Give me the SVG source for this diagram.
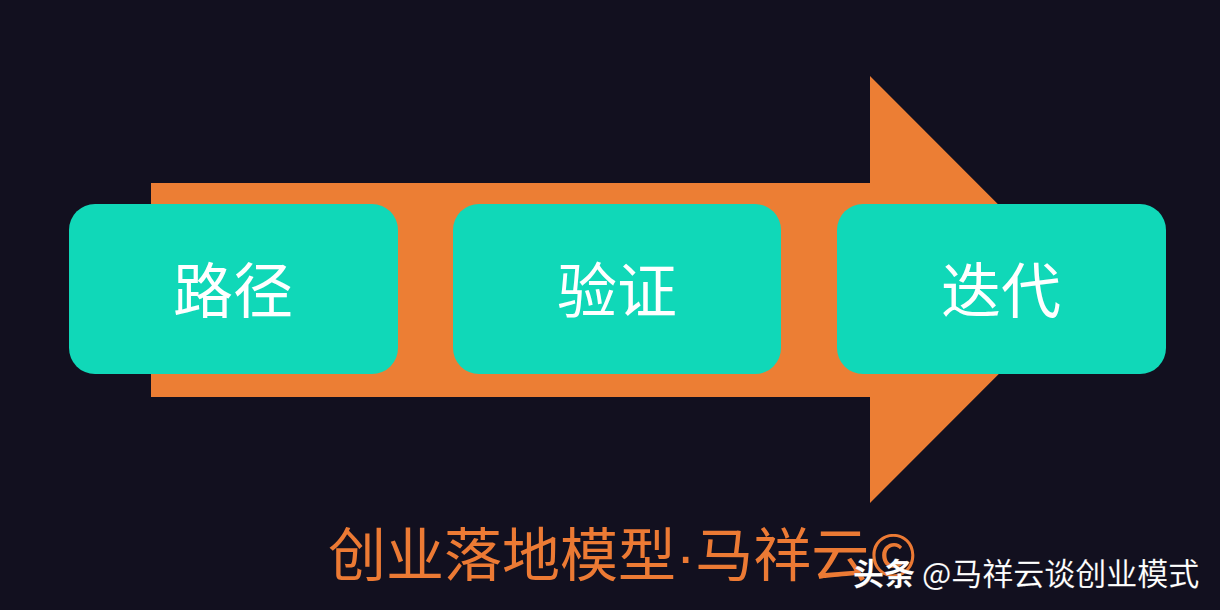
<svg xmlns="http://www.w3.org/2000/svg" width="1220" height="610" viewBox="0 0 1220 610">
<style>
.box{fill:#10D8B8}
.lbl{font-family:"Noto Sans CJK SC","Noto Sans",sans-serif;font-size:60px;fill:#FFFFFF;text-anchor:middle;dominant-baseline:central}
.title{font-family:"Noto Sans CJK SC","Noto Sans",sans-serif;font-size:58px;fill:#EC7A34}
.wm{font-family:"Noto Sans CJK SC","Noto Sans",sans-serif;font-size:31px;fill:#FFFFFF}
</style>
<rect width="1220" height="610" fill="#12101F"/>
<g id="connectors">
<polygon points="151,183 870,183 870,76 1083,289.5 870,503 870,397 151,397" fill="#EC7E34"/>
</g>
<g id="node1"><rect class="box" x="69" y="204" width="329" height="170" rx="26"/><text class="lbl" x="233" y="286">路径</text></g>
<g id="node2"><rect class="box" x="453" y="204" width="328" height="170" rx="26"/><text class="lbl" x="617" y="286">验证</text></g>
<g id="node3"><rect class="box" x="837" y="204" width="329" height="170" rx="26"/><text class="lbl" x="1001" y="286">迭代</text></g>
<g id="caption"><text class="title" x="328" y="576">创业落地模型<tspan font-family="Liberation Sans, sans-serif">·</tspan>马祥云©</text></g>
<g id="watermark"><text class="wm" x="853" y="585" stroke="#000000" stroke-opacity="0.25" stroke-width="0.5"><tspan font-weight="bold">头条</tspan> @马祥云谈创业模式</text></g>
</svg>
